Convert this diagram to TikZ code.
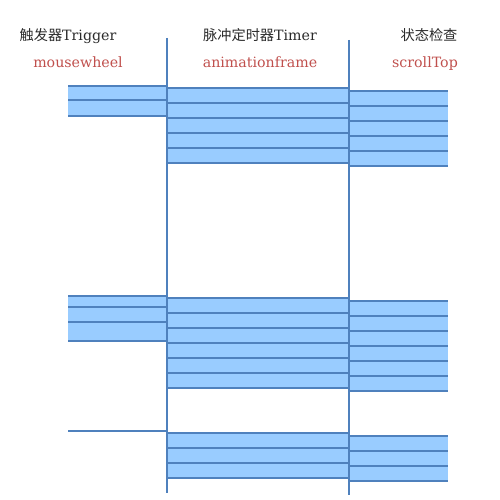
\documentclass[tikz,border=0pt]{standalone}
\usepackage{fontspec}
\setmainfont{DejaVu Serif}
\newfontfamily\cjk{Noto Sans CJK SC}
\definecolor{lineblue}{HTML}{4F81BD}
\definecolor{bandfill}{HTML}{99CCFF}
\definecolor{labred}{HTML}{C0504D}
\definecolor{titlegray}{HTML}{2A2A2A}
\tikzset{
  sep/.style={draw=lineblue,line width=1.4pt},
  bandline/.style={draw=lineblue,line width=1.4pt},
  bandarea/.style={fill=bandfill},
  title/.style={text=titlegray,anchor=base,inner sep=0pt,font=\fontsize{14.2}{17}\selectfont},
  event/.style={text=labred,anchor=base,inner sep=0pt,font=\fontsize{14.2}{17}\selectfont}
}
\begin{document}
\begin{tikzpicture}[x=1pt,y=-1pt]
\useasboundingbox (0,0) rectangle (500,500);
% column headers
\node[title] (t1) at (68,40.5) {{\cjk 触发器}Trigger};
\node[title] (t2) at (260,40.5) {{\cjk 脉冲定时器}Timer};
\node[title] (t3) at (429,40.5) {{\cjk 状态检查}};
\node[event] (e1) at (78,67.5) {mousewheel};
\node[event] (e2) at (260,67.5) {animationframe};
\node[event] (e3) at (425,67.5) {scrollTop};
% block 1
\fill[bandarea] (68,86) rectangle (167,116);
\foreach \y in {86,100,116} \draw[bandline] (68,\y) -- (167,\y);
\fill[bandarea] (167,88) rectangle (349,163);
\foreach \y in {88,103,118,133,148,163} \draw[bandline] (167,\y) -- (349,\y);
\fill[bandarea] (349,91) rectangle (448,166);
\foreach \y in {91,106,121,136,151,166} \draw[bandline] (349,\y) -- (448,\y);
% block 2
\fill[bandarea] (68,296) rectangle (167,341);
\foreach \y in {296,307,322,341} \draw[bandline] (68,\y) -- (167,\y);
\fill[bandarea] (167,298) rectangle (349,388);
\foreach \y in {298,313,328,343,358,373,388} \draw[bandline] (167,\y) -- (349,\y);
\fill[bandarea] (349,301) rectangle (448,391);
\foreach \y in {301,316,331,346,361,376,391} \draw[bandline] (349,\y) -- (448,\y);
% block 3
\draw[bandline] (68,431) -- (167,431);
\fill[bandarea] (167,433) rectangle (349,478);
\foreach \y in {433,448,463,478} \draw[bandline] (167,\y) -- (349,\y);
\fill[bandarea] (349,436) rectangle (448,481);
\foreach \y in {436,451,466,481} \draw[bandline] (349,\y) -- (448,\y);
% column separators
\draw[sep] (167,38) -- (167,493);
\draw[sep] (349,40) -- (349,495);
\end{tikzpicture}
\end{document}
